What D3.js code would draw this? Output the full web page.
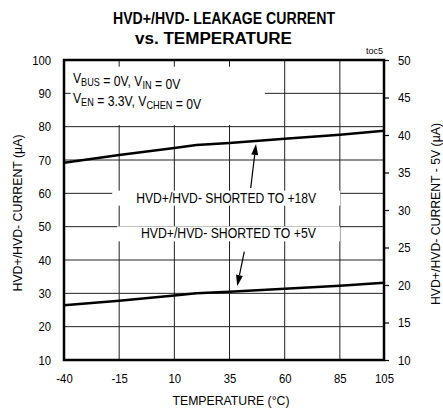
<!DOCTYPE html>
<html>
<head>
<meta charset="utf-8">
<script src="https://cdn.jsdelivr.net/npm/d3@7"></script>
<style>
  body { margin: 0; background: #fff; }
  svg text { font-family: Arial, "Liberation Sans", sans-serif; fill: #000; }
</style>
</head>
<body>
<svg id="chart" width="443" height="410"></svg>
<script>
// temperature (degC) and leakage current
var temps = [-40, -15, 10, 20, 35, 60, 85, 105];
var current18V = [69.2, 71.5, 73.6, 74.5, 75.1, 76.4, 77.6, 78.8];   // left axis, uA
var current5V = [17.3, 17.9, 18.6, 18.9, 19.1, 19.5, 19.9, 20.3];    // right axis, uA

var xTicks = [-40, -15, 10, 35, 60, 85, 105];
var yLeftTicks = [10, 20, 30, 40, 50, 60, 70, 80, 90, 100];
var yRightTicks = [10, 15, 20, 25, 30, 35, 40, 45, 50];

var svg = d3.select("#chart"),
    margin = { top: 60, right: 59, bottom: 50, left: 64 },
    width = +svg.attr("width") - margin.left - margin.right,
    height = +svg.attr("height") - margin.top - margin.bottom;

var x = d3.scaleLinear().domain([-40, 105]).range([0, width]),
    yL = d3.scaleLinear().domain([10, 100]).range([height, 0]),
    yR = d3.scaleLinear().domain([10, 50]).range([height, 0]);

var g = svg.append("g")
    .attr("transform", "translate(" + margin.left + "," + margin.top + ")");

// squeeze a text horizontally round its anchor (the chart uses a narrow face)
function squeeze(sel, k) {
    sel.each(function () {
        var ax = +this.getAttribute("x") || 0;
        var tr = this.getAttribute("transform") || "";
        this.setAttribute("transform", tr + " translate(" + ax + ",0) scale(" + k + ",1) translate(" + (-ax) + ",0)");
    });
}

// grid
g.append("g").selectAll("line")
    .data(yLeftTicks.slice(1, -1))
    .enter().append("line")
    .attr("x1", 0).attr("x2", width)
    .attr("y1", function (d) { return yL(d); })
    .attr("y2", function (d) { return yL(d); })
    .attr("stroke", "#222").attr("stroke-width", 1);

g.append("g").selectAll("line")
    .data(xTicks.slice(1, -1))
    .enter().append("line")
    .attr("y1", 0).attr("y2", height)
    .attr("x1", function (d) { return x(d); })
    .attr("x2", function (d) { return x(d); })
    .attr("stroke", "#222").attr("stroke-width", 1);

// white box behind conditions text
g.append("rect")
    .attr("x", x(-37)).attr("y", yL(98))
    .attr("width", x(51) - x(-37)).attr("height", yL(80.5) - yL(98))
    .attr("fill", "#fff");

// curves
var line18 = d3.line()
    .x(function (d, i) { return x(temps[i]); })
    .y(function (d) { return yL(d); });
var line5 = d3.line()
    .x(function (d, i) { return x(temps[i]); })
    .y(function (d) { return yR(d); });

g.append("path").datum(current18V)
    .attr("d", line18).attr("fill", "none")
    .attr("stroke", "#000").attr("stroke-width", 2.5);
g.append("path").datum(current5V)
    .attr("d", line5).attr("fill", "none")
    .attr("stroke", "#000").attr("stroke-width", 2.5);

// annotation labels with white boxes
function label(text, tx, ty, len, padX) {
    var t = g.append("text")
        .attr("x", x(tx)).attr("y", yL(ty))
        .attr("text-anchor", "middle")
        .attr("font-size", 14)
        .attr("textLength", len).attr("lengthAdjust", "spacingAndGlyphs")
        .text(text);
    var b = t.node().getBBox();
    g.insert("rect", "text")
        .attr("x", x(tx) - len / 2 - padX).attr("y", b.y + 1)
        .attr("width", len + 2 * padX).attr("height", b.height - 1)
        .attr("fill", "#fff");
}
label("HVD+/HVD- SHORTED TO +18V", 33.5, 57.2, 180, 24);
label("HVD+/HVD- SHORTED TO +5V", 34.5, 46.5, 175, 24);

// arrows
function arrow(x0, y0, x1, y1) {
    var px0 = x(x0), py0 = yL(y0), px1 = x(x1), py1 = yL(y1);
    var ang = Math.atan2(py1 - py0, px1 - px0), len = 11, w = 3.5;
    var bx = px1 - len * Math.cos(ang), by = py1 - len * Math.sin(ang);
    g.append("line")
        .attr("x1", px0).attr("y1", py0).attr("x2", bx).attr("y2", by)
        .attr("stroke", "#000").attr("stroke-width", 1.2);
    g.append("path")
        .attr("d", "M" + px1 + "," + py1 +
            "L" + (bx + w * Math.sin(ang)) + "," + (by - w * Math.cos(ang)) +
            "L" + (bx - w * Math.sin(ang)) + "," + (by + w * Math.cos(ang)) + "Z")
        .attr("fill", "#000");
}
arrow(44.6, 61.6, 47, 74.8);
arrow(41.7, 42.5, 38.5, 32.2);

// conditions text
function condLine(yy, parts) {
    var el = g.append("text").attr("x", 9).attr("y", yy).attr("font-size", 14);
    parts.forEach(function (p) {
        if (p[1]) {
            el.append("tspan").attr("font-size", 10.5).attr("dy", 3).text(p[0]);
            el.append("tspan").attr("dy", -3).text("");
        } else {
            el.append("tspan").text(p[0]);
        }
    });
    squeeze(el, 0.87);
}
condLine(23.5, [["V", 0], ["BUS", 1], [" = 0V, V", 0], ["IN", 1], [" = 0V", 0]]);
condLine(43, [["V", 0], ["EN", 1], [" = 3.3V, V", 0], ["CHEN", 1], [" = 0V", 0]]);

// axes
var fmt = function (d) { return String(d); };
var axL = g.append("g")
    .call(d3.axisLeft(yL).tickValues(yLeftTicks).tickFormat(fmt).tickSize(0).tickPadding(13));
var axR = g.append("g")
    .attr("transform", "translate(" + width + ",0)")
    .call(d3.axisRight(yR).tickValues(yRightTicks).tickFormat(fmt).tickSize(5).tickPadding(9));
var axB = g.append("g")
    .attr("transform", "translate(0," + height + ")")
    .call(d3.axisBottom(x).tickValues(xTicks).tickFormat(fmt).tickSize(0).tickPadding(14));

[axL, axR, axB].forEach(function (a) {
    a.select(".domain").remove();
    a.selectAll("text").attr("font-size", 13).attr("font-family", null);
    a.selectAll("line").attr("stroke", "#000").attr("stroke-width", 1.2);
    squeeze(a.selectAll("text"), 0.87);
});

// frame
g.append("rect")
    .attr("x", 0).attr("y", 0).attr("width", width).attr("height", height)
    .attr("fill", "none").attr("stroke", "#000").attr("stroke-width", 2.5);

// titles
function title(tx, ty, txt, size, len, bold) {
    return svg.append("text").attr("x", tx).attr("y", ty).attr("text-anchor", "middle")
        .attr("font-size", size).attr("font-weight", bold ? "bold" : null)
        .attr("textLength", len).attr("lengthAdjust", "spacingAndGlyphs")
        .text(txt);
}
title(224, 23.5, "HVD+/HVD- LEAKAGE CURRENT", 16, 222, true);
title(213.5, 43.5, "vs. TEMPERATURE", 16, 157, true);
title(231, 405, "TEMPERATURE (°C)", 13.5, 117, false);
title(0, 0, "HVD+/HVD- CURRENT (µA)", 13.5, 157, false)
    .attr("transform", "translate(22,213) rotate(-90)");
title(0, 0, "HVD+/HVD- CURRENT - 5V (µA)", 13.5, 182, false)
    .attr("transform", "translate(440,214) rotate(-90)");
svg.append("text").attr("x", 383).attr("y", 54).attr("text-anchor", "end")
    .attr("font-size", 9).attr("textLength", 17).attr("lengthAdjust", "spacingAndGlyphs")
    .text("toc5");
</script>
</body>
</html>
